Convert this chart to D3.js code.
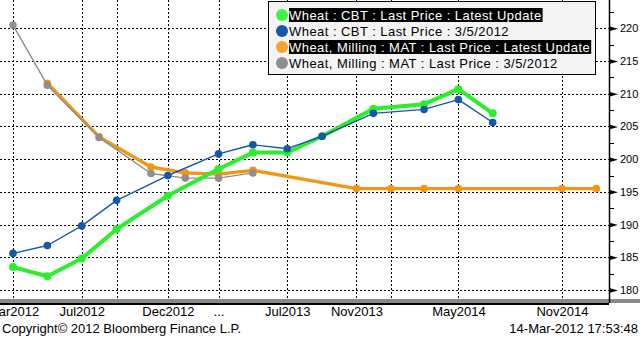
<!DOCTYPE html>
<html><head><meta charset="utf-8">
<script src="https://cdn.jsdelivr.net/npm/d3@7"></script>
<style>
html,body{margin:0;padding:0;background:#fff;}
svg{display:block;font-family:"Liberation Sans",Arial,sans-serif;}
</style></head><body>
<svg id="c" width="640" height="338"></svg>
<script>
// ---- data ----
const cbtMonths = ["2012-03","2012-05","2012-07","2012-09","2012-12","2013-03","2013-05","2013-07","2013-09","2013-12","2014-03","2014-05","2014-07"];
const cbtLatest = [183.5,182.1,184.8,189.3,194.4,198.5,201.0,201.0,203.5,207.7,208.4,210.7,207.0];
const cbtPrev   = [185.6,186.8,189.8,193.7,197.5,200.8,202.2,201.6,203.5,207.0,207.6,209.1,205.6];
const matLatestMonths = ["2012-05","2012-08","2012-11","2013-01","2013-03","2013-05","2013-11","2014-01","2014-03","2014-05","2014-11","2015-01"];
const matLatest = [211.6,203.4,198.8,197.9,197.7,198.3,195.5,195.5,195.5,195.5,195.5,195.5];
const matPrevMonths = ["2012-03","2012-05","2012-08","2012-11","2013-01","2013-03","2013-05"];
const matPrev = [220.5,211.3,203.3,197.8,197.1,197.1,197.9];
const gridMonths = ["2012-03","2012-07","2012-09","2012-12","2013-03","2013-07","2013-11","2014-01","2014-05","2014-11"];
const xTickMonths = ["2012-03","2012-07","2012-12","2013-03","2013-07","2013-11","2014-05","2014-11"];
const xTickLabels = ["Mar2012","Jul2012","Dec2012","...","Jul2013","Nov2013","May2014","Nov2014"];
const yTicks = [180,185,190,195,200,205,210,215,220];
const yMinor = [182.5,187.5,192.5,197.5,202.5,207.5,212.5,217.5,222.5];
const legendLabels = ["Wheat : CBT : Last Price : Latest Update","Wheat : CBT : Last Price : 3/5/2012","Wheat, Milling : MAT : Last Price : Latest Update","Wheat, Milling : MAT : Last Price : 3/5/2012"];
const legendColors = ["#44f444","#1558a8","#f7a32c","#8f8f8f"];
const legendSelected = [true,false,true,false];
const footerLeft = "Copyright\u00A9 2012 Bloomberg Finance L.P.";
const footerRight = "14-Mar-2012 17:53:48";

// ---- scales ----
const parse = d3.timeParse("%Y-%m");
const x = d3.scaleTime().domain([parse("2012-03"), parse("2014-11")]).range([13, 562]);
const y = d3.scaleLinear().domain([180, 220]).range([290, 28.3]);
const axisX = 609, plotBottom = 299;

const svg = d3.select("#c");

// gridlines
const grid = svg.append("g").attr("stroke","#000").attr("stroke-width",1).attr("stroke-dasharray","2,2").attr("shape-rendering","crispEdges");
grid.selectAll("line.h").data(yTicks).join("line").attr("class","h")
  .attr("x1",0).attr("x2",axisX).attr("y1",d=>Math.round(y(d))+0.5).attr("y2",d=>Math.round(y(d))+0.5);
grid.selectAll("line.v").data(gridMonths).join("line").attr("class","v")
  .attr("x1",d=>Math.round(x(parse(d)))+0.5).attr("x2",d=>Math.round(x(parse(d)))+0.5).attr("y1",0).attr("y2",plotBottom);

// series
function series(months, vals, color, lw, r) {
  const pts = months.map((m,i)=>[x(parse(m)), y(vals[i])]);
  const g = svg.append("g");
  g.append("path").attr("d", d3.line()(pts)).attr("fill","none").attr("stroke",color)
    .attr("stroke-width",lw).attr("stroke-linejoin","round");
  g.selectAll("circle").data(pts).join("circle").attr("cx",d=>d[0]).attr("cy",d=>d[1]).attr("r",r).attr("fill",color);
}
series(matLatestMonths, matLatest, "#f39612", 3.3, 3.8);
series(matPrevMonths, matPrev, "#8f8f8f", 1.4, 3.8);
series(cbtMonths, cbtLatest, "#2bef2b", 4, 4);
series(cbtMonths, cbtPrev, "#1558a8", 1.4, 3.8);

// bottom bars
svg.append("rect").attr("x",0).attr("y",plotBottom).attr("width",640).attr("height",4).attr("fill","#8a8a8a");
svg.append("rect").attr("x",0).attr("y",plotBottom+4).attr("width",axisX).attr("height",2).attr("fill","#000");

// right axis
const yAxis = d3.axisRight(y).tickValues(yTicks).tickSize(0).tickPadding(11).tickFormat(d3.format("d"));
const ya = svg.append("g").attr("transform",`translate(${axisX},0)`).call(yAxis);
ya.select(".domain").remove();
ya.selectAll("text").attr("font-size","11px").attr("fill","#000").attr("font-family","'Liberation Sans',Arial,sans-serif");
ya.selectAll(".tick").append("path").attr("d","M0,-2.5L9,0L0,2.5Z").attr("fill","#000");
const yMinAxis = d3.axisRight(y).tickValues(yMinor).tickSize(5).tickFormat("");
const ym = svg.append("g").attr("transform",`translate(${axisX},0)`).call(yMinAxis);
ym.select(".domain").remove();
ym.selectAll("line").attr("stroke","#000").attr("shape-rendering","crispEdges");
svg.append("line").attr("x1",axisX+0.5).attr("x2",axisX+0.5).attr("y1",0).attr("y2",plotBottom+4).attr("stroke","#000").attr("stroke-width",1.5);

// bottom axis labels
const xAxis = d3.axisBottom(x).tickValues(xTickMonths.map(parse)).tickSize(0).tickPadding(2)
  .tickFormat((d,i)=>xTickLabels[i]);
const xa = svg.append("g").attr("transform",`translate(0,${plotBottom+6})`).call(xAxis);
xa.select(".domain").remove();
xa.selectAll("text").attr("font-size","13px").attr("fill","#000").attr("font-family","'Liberation Sans',Arial,sans-serif");

// footer
svg.append("text").attr("x",2).attr("y",333).attr("font-size","13px").attr("fill","#000").text(footerLeft);
svg.append("text").attr("x",638).attr("y",333).attr("text-anchor","end").attr("font-size","13px").attr("fill","#000").text(footerRight);

// legend
const lg = svg.append("g");
lg.append("rect").attr("x",268.5).attr("y",1.5).attr("width",327).attr("height",73).attr("fill","#f4f4f4").attr("stroke","#000");
legendLabels.forEach((t,i)=>{
  const cy = 15 + i*16;
  const item = lg.append("g");
  const bg = item.append("rect").attr("x",289).attr("y",cy-7).attr("height",14).attr("fill",legendSelected[i]?"#000":"none");
  const tx = item.append("text").attr("x",289).attr("y",cy+4.5).attr("font-size","13px").attr("letter-spacing","0.45px")
    .attr("fill",legendSelected[i]?"#fff":"#000").text(t);
  bg.attr("width", tx.node().getComputedTextLength()+1);
  item.append("circle").attr("cx",282).attr("cy",cy).attr("r",6).attr("fill",legendColors[i]);
});
</script>
</body></html>
